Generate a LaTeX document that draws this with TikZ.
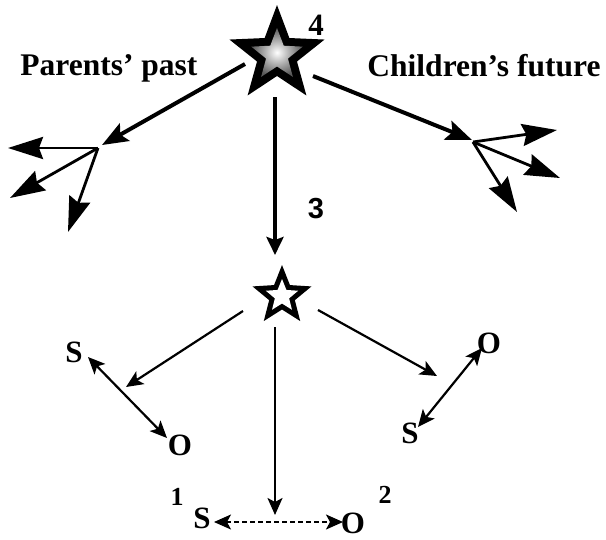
\documentclass[tikz,border=0pt]{standalone}
\usepackage{fontspec}
\setmainfont{Liberation Serif}
\newfontfamily\labelsans{Liberation Sans}
\usetikzlibrary{arrows.meta}
\tikzset{
  bigtip/.tip={Stealth[length=26pt,width=20pt,inset=5pt]},
  vtip/.tip={Stealth[length=18pt,width=17pt,inset=3pt]},
  fantip/.tip={Stealth[length=35pt,width=22pt,inset=4pt]},
  midtip/.tip={Stealth[length=17pt,width=15pt,inset=4pt]},
  bigarrow/.style={line width=4pt,-bigtip},
  vbigarrow/.style={line width=4pt,-vtip},
  fanarrow/.style={line width=2.8pt,-fantip},
  midarrow/.style={line width=2.2pt,-midtip},
  twoway/.style={line width=2.2pt,midtip-midtip},
  dashtwo/.style={line width=1.8pt,dash pattern=on 5pt off 3pt,midtip-midtip},
  titletext/.style={font=\bfseries\fontsize{31.5}{36}\selectfont,anchor=base,inner sep=0pt},
  lettertext/.style={font=\bfseries\fontsize{31}{34}\selectfont,anchor=base,inner sep=0pt},
  numtext/.style={font=\bfseries\fontsize{26}{30}\selectfont,anchor=base,inner sep=0pt},
}
\begin{document}
\begin{tikzpicture}[x=1pt,y=-1pt]
\useasboundingbox (0,0) rectangle (606,539);
% big star
\begin{scope}[shift={(277,55)}]
  \fill[black] (-90:50) -- (-54:21) -- (-18:50) -- (18:21) -- (54:50) -- (90:21)
     -- (126:50) -- (162:21) -- (198:50) -- (234:21) -- cycle;
  \shade[inner color=white,outer color=black!65] (-90:27) -- (-54:11.5) -- (-18:27) -- (18:11.5) -- (54:27) -- (90:11.5)
     -- (126:27) -- (162:11.5) -- (198:27) -- (234:11.5) -- cycle;
\end{scope}
\coordinate (bigstar) at (277,55);
% small star
\begin{scope}[shift={(282,296)}]
  \fill[black] (-90:31) -- (-54:13.5) -- (-18:31) -- (18:13.5) -- (54:31) -- (90:13.5)
     -- (126:31) -- (162:13.5) -- (198:31) -- (234:13.5) -- cycle;
  \fill[white] (-90:17) -- (-54:7.5) -- (-18:17) -- (18:7.5) -- (54:17) -- (90:7.5)
     -- (126:17) -- (162:7.5) -- (198:17) -- (234:7.5) -- cycle;
\end{scope}
\coordinate (smallstar) at (282,296);
% texts
\node[titletext] (parents) at (109,75) {Parents’ past};
\node[titletext] (children) at (484,76) {Children’s future};
\node[anchor=base,inner sep=0pt,font=\bfseries\fontsize{31}{34}\selectfont] (four) at (316,35) {4};
\node[anchor=base,inner sep=0pt,font=\labelsans\bfseries\fontsize{29}{30}\selectfont] (three) at (316,218) {3};
\node[lettertext] (s1) at (74,362) {S};
\node[lettertext] (o1) at (180,455) {O};
\node[lettertext] (o2) at (489,353) {O};
\node[lettertext] (s2) at (410,443) {S};
\node[lettertext] (s3) at (202,528) {S};
\node[lettertext] (o3) at (353,533) {O};
\node[numtext] (one) at (177,505) {1};
\node[numtext] (two) at (385,503) {2};
% coordinates
\coordinate (bl) at (245,64);
\coordinate (br) at (313,76);
\coordinate (bb) at (275,97);
\coordinate (lhubtip) at (102,145);
\coordinate (rhubtip) at (472,140);
\coordinate (smalltop) at (275,255);
\coordinate (lhub) at (98,148);
\coordinate (l1) at (8,148);
\coordinate (l2) at (10,198);
\coordinate (l3) at (68,232);
\coordinate (rhub) at (473,142);
\coordinate (r1) at (557,130);
\coordinate (r2) at (560,178);
\coordinate (r3) at (517,212);
\coordinate (sl) at (243,311);
\coordinate (sr) at (318,310);
\coordinate (sb) at (275,327);
\coordinate (ltip) at (126,387);
\coordinate (rtip) at (437,376);
\coordinate (btip) at (275,515);
\coordinate (s1tip) at (88,357);
\coordinate (o1tip) at (167,438);
\coordinate (o2tip) at (482,348);
\coordinate (s2tip) at (418,427);
\coordinate (s3tip) at (214,522);
\coordinate (o3tip) at (343,522);
% top arrows
\draw[bigarrow] (bl) -- (lhubtip);
\draw[bigarrow] (br) -- (rhubtip);
\draw[vbigarrow] (bb) -- (smalltop);
% fans
\draw[fanarrow] (lhub) -- (l1);
\draw[fanarrow] (lhub) -- (l2);
\draw[fanarrow] (lhub) -- (l3);
\draw[fanarrow] (rhub) -- (r1);
\draw[fanarrow] (rhub) -- (r2);
\draw[fanarrow] (rhub) -- (r3);
% middle
\draw[midarrow] (sl) -- (ltip);
\draw[midarrow] (sr) -- (rtip);
\draw[midarrow] (sb) -- (btip);
\draw[twoway] (s1tip) -- (o1tip);
\draw[twoway] (o2tip) -- (s2tip);
\draw[dashtwo] (s3tip) -- (o3tip);
\end{tikzpicture}
\end{document}
